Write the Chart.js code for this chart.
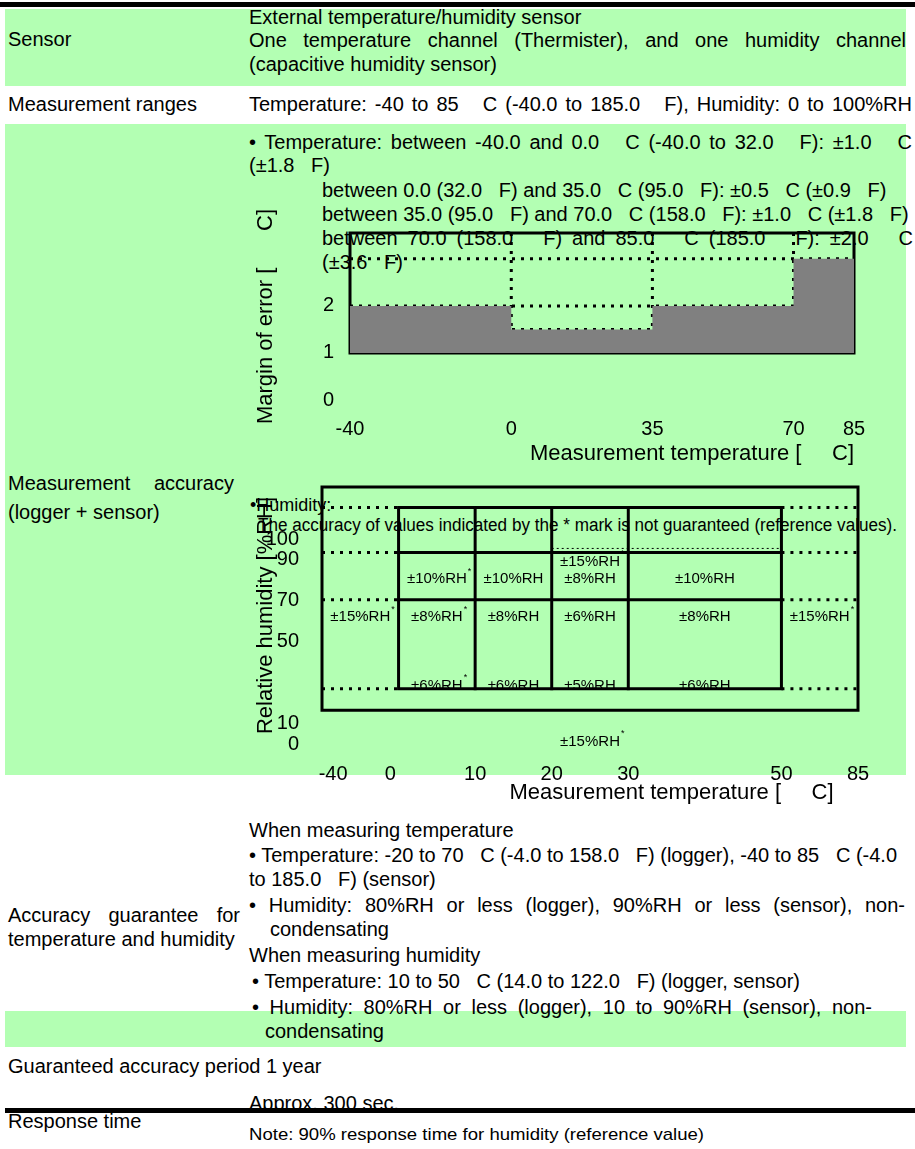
<!DOCTYPE html>
<html><head><meta charset="utf-8">
<script src="https://cdn.jsdelivr.net/npm/chart.js@4.4.1/dist/chart.umd.min.js"></script>
<style>
html,body{margin:0;padding:0;background:#fff;width:915px;height:1149px;overflow:hidden;position:relative;font-family:"Liberation Sans",Arial,sans-serif;color:#000}
.g{position:absolute;background:#b3ffb3;z-index:0}
.bar{position:absolute;background:#000;z-index:5}
.t{position:absolute;font-size:20px;line-height:24px;white-space:pre;transform:translateY(-50%);transform-origin:0 50%;z-index:2}
canvas{position:absolute;z-index:3}
</style></head>
<body>
<div class="bar" style="left:0;top:2px;width:915px;height:5px"></div>
<div class="g" style="left:5px;top:9px;width:901px;height:77px"></div>
<div class="g" style="left:5px;top:124px;width:901px;height:651px"></div>
<div class="g" style="left:5px;top:1011px;width:901px;height:36px"></div>
<div class="bar" style="left:5px;top:1108px;width:910px;height:5px"></div>
<div style="position:absolute;left:0;top:1113px;width:915px;height:36px;background:#fff;z-index:1"></div>
<canvas id="c1" width="665" height="285" style="left:250px;top:190px"></canvas>
<canvas id="c2" width="665" height="350" style="left:250px;top:460px"></canvas>
<script>
// ---------- Chart 1 data: temperature accuracy ----------
const tempBounds = [-40, 0, 35, 70, 85];
const marginTops = [2, 1.5, 2, 3];
const marginBase = 1;
const frameTop1 = 3.55;
const xTicks1 = [-40, 0, 35, 70, 85];
const yTicks1 = [0, 1, 2];
const hLines1 = [1.5, 2, 3];
const vLines1 = [0, 35, 70];

// ---------- Chart 2 data: humidity accuracy ----------
const humTempLabels = ['-40', '0', '10', '20', '30', '40', '50', '85'];
const humTickShow = ['-40', '0', '10', '20', '30', '50', '85'];
const humYTicks = [0, 10, 50, 70, 90, 100];
const outerHum = [16.5, 125.5];
const innerTemps = ['0', '10', '20', '30', '50'];
const innerHum = [27, 70.5, 93.5, 115.5];
const faintLine = ['20', '50', 95.5];
const humCells = [
  ['0', '10', 80.5, '±10%RH*'], ['10', '20', 80.5, '±10%RH'], ['20', '30', 80.5, '±8%RH'], ['30', '50', 80.5, '±10%RH'],
  ['20', '30', 89, '±15%RH*'],
  ['-40', '0', 62, '±15%RH*'], ['0', '10', 62, '±8%RH*'], ['10', '20', 62, '±8%RH'], ['20', '30', 62, '±6%RH'], ['30', '50', 62, '±8%RH'], ['50', '85', 62, '±15%RH*'],
  ['0', '10', 28.5, '±6%RH*'], ['10', '20', 28.5, '±6%RH'], ['20', '30', 28.5, '±5%RH'], ['30', '50', 28.5, '±6%RH'],
  ['20', '30', 1, '±15%RH*']
];

// ---------- page text ----------
const texts = [
  [249, 17, 'External temperature/humidity sensor'],
  [8, 39, 'Sensor'],
  [249, 40, 'One temperature channel (Thermister), and one humidity channel', {w: 657, j: 1}],
  [249, 64, '(capacitive humidity sensor)'],
  [8, 104, 'Measurement ranges'],
  [249, 104, 'Temperature: -40 to 85   C (-40.0 to 185.0   F), Humidity: 0 to 100%RH', {w: 663, j: 1}],
  [249, 142, '• Temperature: between -40.0 and 0.0   C (-40.0 to 32.0   F): ±1.0   C', {w: 663, j: 1}],
  [249, 165, '(±1.8   F)'],
  [322, 190, 'between 0.0 (32.0   F) and 35.0   C (95.0   F): ±0.5   C (±0.9   F)'],
  [322, 214, 'between 35.0 (95.0   F) and 70.0   C (158.0   F): ±1.0   C (±1.8   F)'],
  [322, 238, 'between 70.0 (158.0   F) and 85.0   C (185.0   F): ±2.0   C', {w: 591, j: 1}],
  [322, 262, '(±3.6   F)'],
  [8, 483, 'Measurement accuracy', {w: 226, j: 1}],
  [8, 512, '(logger + sensor)'],
  [250, 505, '•Humidity:', {size: 18}],
  [258, 525, 'The accuracy of values indicated by the * mark is not guaranteed (reference values).', {size: 18, w: 639}],
  [249, 830, 'When measuring temperature'],
  [249, 855, '• Temperature: -20 to 70   C (-4.0 to 158.0   F) (logger), -40 to 85   C (-4.0'],
  [249, 879, 'to 185.0   F) (sensor)'],
  [249, 905, '• Humidity: 80%RH or less (logger), 90%RH or less (sensor), non-', {w: 656, j: 1}],
  [270, 929, 'condensating'],
  [8, 915, 'Accuracy guarantee for', {w: 232, j: 1}],
  [8, 939, 'temperature and humidity'],
  [249, 955, 'When measuring humidity'],
  [252, 981, '• Temperature: 10 to 50   C (14.0 to 122.0   F) (logger, sensor)'],
  [252, 1007, '• Humidity: 80%RH or less (logger), 10 to 90%RH (sensor), non-', {w: 620, j: 1}],
  [265, 1031, 'condensating'],
  [8, 1066, 'Guaranteed accuracy period 1 year'],
  [249, 1103, 'Approx. 300 sec.', {z: 0}],
  [8, 1121, 'Response time'],
  [249, 1135, 'Note: 90% response time for humidity (reference value)', {size: 17, w: 455}]
];
for (const [x, y, txt, o = {}] of texts) {
  const d = document.createElement('div');
  d.className = 't';
  d.textContent = txt;
  d.style.left = x + 'px';
  d.style.top = y + 'px';
  if (o.size) d.style.fontSize = o.size + 'px';
  if (o.z !== undefined) d.style.zIndex = o.z;
  document.body.appendChild(d);
  if (o.w) {
    const nw = d.getBoundingClientRect().width;
    if (o.j) {
      const n = (txt.match(/ /g) || []).length;
      d.style.wordSpacing = ((o.w - nw) / n) + 'px';
    } else {
      d.style.transform = 'translateY(-50%) scaleX(' + (o.w / nw) + ')';
    }
  }
}

const FAM = '"Liberation Sans", Arial, sans-serif';
const blk = '#000';
function solid(data, w) {
  return {data, borderColor: blk, borderWidth: w || 3, pointRadius: 0, fill: false, clip: false, borderCapStyle: 'square'};
}
function dotted(data, w, dash) {
  return {data, borderColor: blk, borderWidth: w || 3, borderDash: dash || [3, 6], pointRadius: 0, fill: false, clip: false, borderCapStyle: 'butt'};
}
const baseOpts = {
  responsive: false, animation: false, devicePixelRatio: 1,
  plugins: {legend: {display: false}, tooltip: {enabled: false}},
  elements: {line: {tension: 0}, point: {radius: 0}}
};

// ---------- Chart 1 ----------
const xMin1 = tempBounds[0], xMax1 = tempBounds[tempBounds.length - 1];
new Chart(document.getElementById('c1'), {
  type: 'line',
  data: {datasets: [
    {data: tempBounds.map((t, i) => ({x: t, y: marginTops[Math.min(i, marginTops.length - 1)]})),
     stepped: 'before', fill: {value: marginBase}, backgroundColor: '#808080', borderColor: 'rgba(0,0,0,0)', borderWidth: 0, pointRadius: 0, clip: false},
    ...hLines1.map(v => dotted([{x: xMin1, y: v}, {x: xMax1, y: v}])),
    ...vLines1.map(t => dotted([{x: t, y: marginBase}, {x: t, y: frameTop1}])),
    solid([{x: xMin1, y: marginBase}, {x: xMax1, y: marginBase}, {x: xMax1, y: frameTop1}, {x: xMin1, y: frameTop1}, {x: xMin1, y: marginBase}])
  ]},
  options: {...baseOpts,
    layout: {padding: {top: 43, right: 61, bottom: 0, left: 0}},
    scales: {
      x: {type: 'linear', min: xMin1, max: xMax1, grid: {display: false}, border: {display: false},
          afterBuildTicks: s => { s.ticks = xTicks1.map(v => ({value: v})); },
          afterFit: s => { s.height = 75; },
          ticks: {color: blk, font: {family: FAM, size: 20}, padding: 9, autoSkip: false, maxRotation: 0, callback: v => String(v)},
          title: {display: true, text: 'Measurement temperature [     C]', align: 'end', color: blk, font: {family: FAM, size: 22}, padding: {top: 0, bottom: 8}}},
      y: {type: 'linear', min: 0, max: frameTop1, grid: {display: false}, border: {display: false},
          afterBuildTicks: s => { s.ticks = yTicks1.map(v => ({value: v})); },
          afterFit: s => { s.width = 100; },
          ticks: {color: blk, font: {family: FAM, size: 20}, padding: 8, callback: v => String(v)},
          title: {display: true, text: 'Margin of error [      C]', color: blk, font: {family: FAM, size: 22}, padding: {top: 3, bottom: 0}}}
    }
  }
});

// ---------- Chart 2 ----------
const cellPlugin = {
  id: 'cells',
  afterDatasetsDraw(chart) {
    const {ctx, scales: {x, y}} = chart;
    ctx.save();
    ctx.fillStyle = blk;
    ctx.textBaseline = 'middle';
    for (const [t0, t1, h, txt] of humCells) {
      const px = (x.getPixelForValue(humTempLabels.indexOf(t0)) + x.getPixelForValue(humTempLabels.indexOf(t1))) / 2;
      const py = y.getPixelForValue(h);
      const star = txt.endsWith('*');
      const base = star ? txt.slice(0, -1) : txt;
      ctx.font = '15px ' + FAM;
      ctx.textAlign = 'center';
      ctx.fillText(base, px, py);
      if (star) {
        const w = ctx.measureText(base).width;
        ctx.font = '9px ' + FAM;
        ctx.textAlign = 'left';
        ctx.fillText('*', px + w / 2 + 1, py - 8);
      }
    }
    ctx.restore();
  }
};
const L = humTempLabels;
const iT0 = innerTemps[0], iT1 = innerTemps[innerTemps.length - 1];
const iH0 = innerHum[0], iH1 = innerHum[innerHum.length - 1];
const ds2 = [
  solid([{x: L[0], y: outerHum[1]}, {x: L[L.length - 1], y: outerHum[1]}, {x: L[L.length - 1], y: outerHum[0]}, {x: L[0], y: outerHum[0]}, {x: L[0], y: outerHum[1]}]),
  solid([{x: iT0, y: iH0}, {x: iT1, y: iH0}, {x: iT1, y: iH1}, {x: iT0, y: iH1}, {x: iT0, y: iH0}]),
  ...innerHum.slice(1, -1).map(h => solid([{x: iT0, y: h}, {x: iT1, y: h}])),
  ...innerTemps.slice(1, -1).map(t => solid([{x: t, y: iH0}, {x: t, y: iH1}])),
  ...innerHum.map(h => dotted([{x: L[0], y: h}, {x: iT0, y: h}])),
  ...innerHum.map(h => dotted([{x: iT1, y: h}, {x: L[L.length - 1], y: h}])),
  dotted([{x: faintLine[0], y: faintLine[2]}, {x: faintLine[1], y: faintLine[2]}], 1, [2, 3])
];
// small horizontal nudges of two tick labels, as in the reference
const tickPad = {'-40': '    -40', '0': '0   '};
new Chart(document.getElementById('c2'), {
  type: 'line',
  data: {labels: humTempLabels, datasets: ds2},
  plugins: [cellPlugin],
  options: {...baseOpts,
    layout: {padding: {top: 23, right: 57, bottom: 0, left: 0}},
    scales: {
      x: {type: 'category', offset: false, grid: {display: false}, border: {display: false},
          afterFit: s => { s.height = 66; },
          ticks: {color: blk, font: {family: FAM, size: 20}, padding: 10, autoSkip: false, maxRotation: 0,
                  callback: (v, i) => humTickShow.includes(humTempLabels[i]) ? (tickPad[humTempLabels[i]] || humTempLabels[i]) : ''},
          title: {display: true, text: 'Measurement temperature [     C]    ', align: 'end', color: blk, font: {family: FAM, size: 22}, padding: {top: 0, bottom: 4}}},
      y: {type: 'linear', min: 0, max: outerHum[1], grid: {display: false}, border: {display: false},
          afterBuildTicks: s => { s.ticks = humYTicks.map(v => ({value: v})); },
          afterFit: s => { s.width = 72; },
          ticks: {color: blk, font: {family: FAM, size: 20}, padding: 15, callback: v => String(v)},
          title: {display: true, text: 'Relative humidity [%RH]', color: blk, font: {family: FAM, size: 22}, padding: {top: 3, bottom: 0}}}
    }
  }
});
</script>
</body></html>
